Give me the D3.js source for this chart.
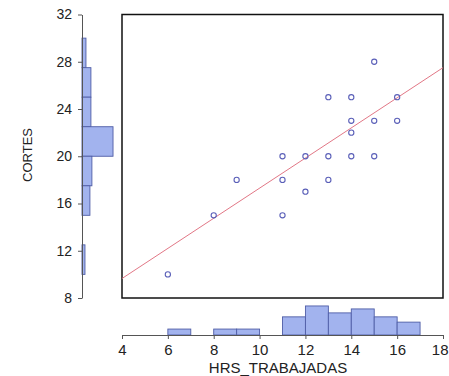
<!DOCTYPE html>
<html>
<head>
<meta charset="utf-8">
<script src="https://cdn.jsdelivr.net/npm/d3@7"></script>
<style>
  body { margin: 0; background: #fff; }
  svg { display: block; font-family: "Liberation Sans", Arial, sans-serif; }
</style>
</head>
<body>
<svg id="chart" width="449" height="376"></svg>
<script>
// scatter points (HRS_TRABAJADAS, CORTES)
var hrs    = [15, 13, 14, 16, 14, 15, 16, 14, 11, 12, 13, 14, 15,  9, 11, 13, 12,  8, 11,  6];
var cortes = [28, 25, 25, 25, 23, 23, 23, 22, 20, 20, 20, 20, 20, 18, 18, 18, 17, 15, 15, 10];

// marginal histogram for HRS_TRABAJADAS (bin start, width 1)
var xHistStart = [6, 8, 9, 11, 12, 13, 14, 15, 16];
var xHistCount = [1.8, 1.8, 1.8, 5.5, 8.8, 6.7, 7.9, 5.5, 3.9];
var xBinWidth = 1;

// marginal histogram for CORTES (bin start, width 2.5)
var yHistStart = [27.5, 25, 22.5, 20, 17.5, 15, 10];
var yHistCount = [1.2, 2.7, 2.7, 9.4, 3.0, 2.4, 0.9];
var yBinWidth = 2.5;

// fitted line
var fitIntercept = 4.55;
var fitSlope = 1.275;

var xTicks = [4, 6, 8, 10, 12, 14, 16, 18];
var yTicks = [8, 12, 16, 20, 24, 28, 32];

var svg = d3.select('#chart');

var x = d3.scaleLinear().domain([4, 18]).range([122, 443]);
var y = d3.scaleLinear().domain([8, 32]).range([298, 14.5]);
var freq = d3.scaleLinear().domain([0, 10]).range([0, 33]);

var xAxisY = 335;
var yAxisX = 82;

// left histogram
svg.append('g')
    .selectAll('rect')
    .data(yHistStart.map(function(s, i) { return {start: s, count: yHistCount[i]}; }))
    .enter().append('rect')
    .attr('x', yAxisX)
    .attr('y', function(d) { return y(d.start + yBinWidth); })
    .attr('width', function(d) { return freq(d.count); })
    .attr('height', function(d) { return y(d.start) - y(d.start + yBinWidth); })
    .attr('fill', '#a2b3ee')
    .attr('stroke', '#4f5da6')
    .attr('stroke-width', 0.9);

// bottom histogram
svg.append('g')
    .selectAll('rect')
    .data(xHistStart.map(function(s, i) { return {start: s, count: xHistCount[i]}; }))
    .enter().append('rect')
    .attr('x', function(d) { return x(d.start); })
    .attr('y', function(d) { return xAxisY - freq(d.count); })
    .attr('width', function(d) { return x(d.start + xBinWidth) - x(d.start); })
    .attr('height', function(d) { return freq(d.count); })
    .attr('fill', '#a2b3ee')
    .attr('stroke', '#4f5da6')
    .attr('stroke-width', 0.9);

// axes
var xAxis = svg.append('g')
    .attr('transform', 'translate(0,' + xAxisY + ')')
    .call(d3.axisBottom(x).tickValues(xTicks).tickSize(4).tickSizeOuter(0).tickPadding(5));
var yAxis = svg.append('g')
    .attr('transform', 'translate(' + yAxisX + ',0)')
    .call(d3.axisLeft(y).tickValues(yTicks).tickSize(4).tickSizeOuter(0).tickPadding(6));

[xAxis, yAxis].forEach(function(a) {
    a.selectAll('path, line').attr('stroke', '#555');
    a.selectAll('text').attr('fill', '#222').style('font-family', '"Liberation Sans", Arial, sans-serif');
});
xAxis.selectAll('text').style('font-size', '15px');
yAxis.selectAll('text').style('font-size', '14px');
// last label sits at the window edge; keep it inside
xAxis.selectAll('.tick').filter(function(d) { return d === 18; })
    .select('text').attr('text-anchor', 'end').attr('x', 5);

// axis titles
svg.append('text')
    .attr('x', 278).attr('y', 373)
    .attr('text-anchor', 'middle')
    .attr('fill', '#222')
    .style('font-size', '15px')
    .text('HRS_TRABAJADAS');

svg.append('text')
    .attr('transform', 'translate(32,155) rotate(-90)')
    .attr('text-anchor', 'middle')
    .attr('fill', '#222')
    .style('font-size', '13px')
    .text('CORTES');

// main frame
svg.append('rect')
    .attr('x', x(4)).attr('y', y(32))
    .attr('width', x(18) - x(4))
    .attr('height', y(8) - y(32))
    .attr('fill', 'none')
    .attr('stroke', '#111')
    .attr('stroke-width', 1.5);

// fit line
svg.append('line')
    .attr('x1', x(4)).attr('y1', y(fitIntercept + fitSlope * 4))
    .attr('x2', x(18)).attr('y2', y(fitIntercept + fitSlope * 18))
    .attr('stroke', '#e27786')
    .attr('stroke-width', 1);

// points
svg.append('g')
    .selectAll('circle')
    .data(hrs.map(function(h, i) { return [h, cortes[i]]; }))
    .enter().append('circle')
    .attr('cx', function(d) { return x(d[0]); })
    .attr('cy', function(d) { return y(d[1]); })
    .attr('r', 2.6)
    .attr('fill', 'none')
    .attr('stroke', '#5a5fb8')
    .attr('stroke-width', 1.1);
</script>
</body>
</html>
